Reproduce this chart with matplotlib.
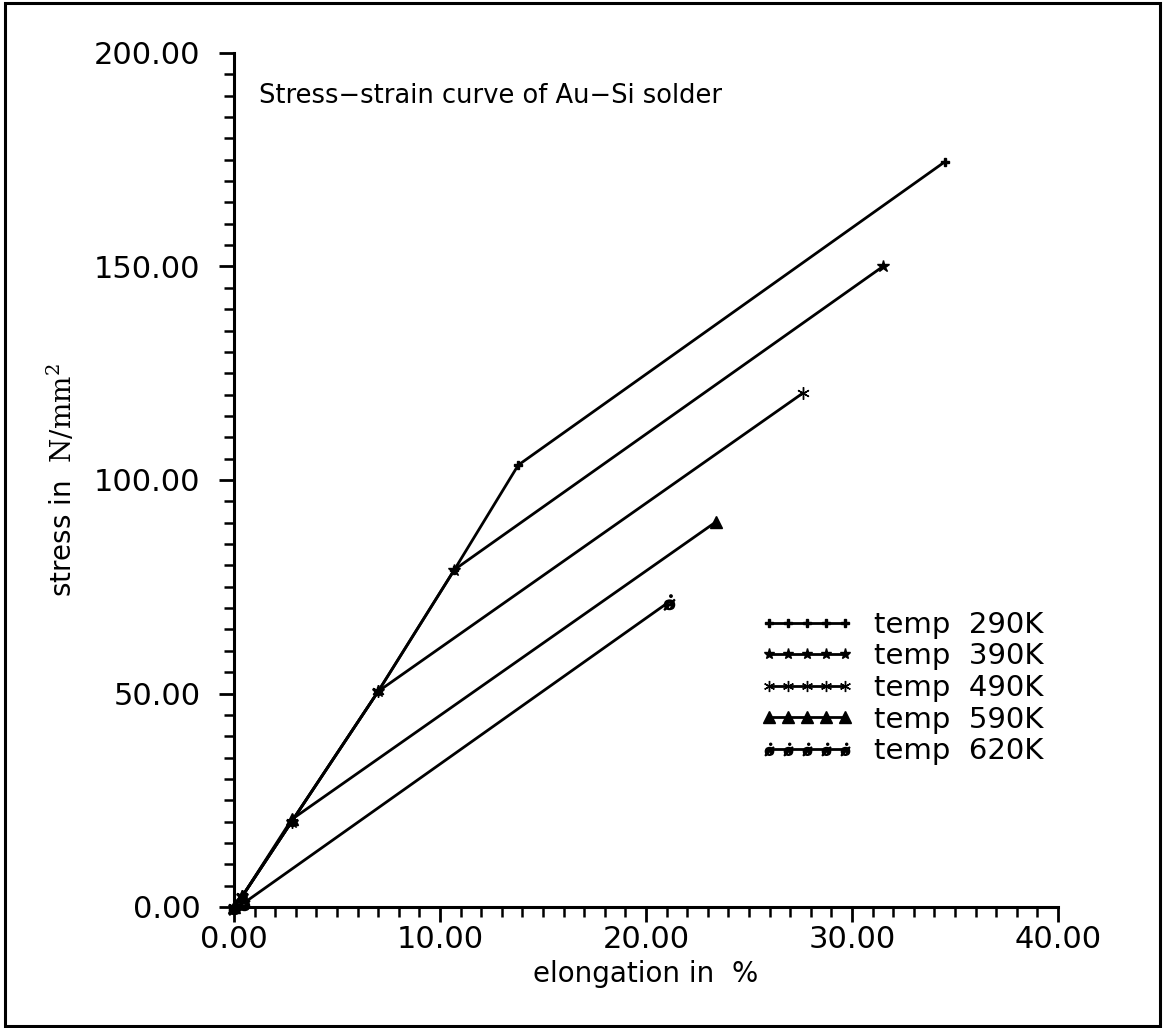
"""Stress-strain curve of Au-Si solder, redrawn with matplotlib."""

import matplotlib
matplotlib.use("Agg")
import matplotlib.pyplot as plt
from matplotlib.patches import Rectangle
from matplotlib.ticker import MultipleLocator, FormatStrFormatter

plt.rcParams["font.family"] = ["DejaVu Sans"]
plt.rcParams["mathtext.fontset"] = "dejavuserif"

# ---------------------------------------------------------------------------
# Data (elongation in %, stress in N/mm^2)
# ---------------------------------------------------------------------------
labels = ["temp  290K", "temp  390K", "temp  490K", "temp  590K", "temp  620K"]

x_290 = [0.0, 0.4, 2.8, 7.0, 10.7, 13.8, 34.5]
y_290 = [0.0, 2.5, 20.0, 50.5, 79.0, 103.5, 174.5]

x_390 = [0.0, 0.4, 2.8, 7.0, 10.7, 31.5]
y_390 = [0.0, 2.5, 20.0, 50.5, 79.0, 150.0]

x_490 = [0.0, 0.4, 2.8, 7.0, 27.6]
y_490 = [0.0, 2.5, 20.0, 50.5, 120.3]

x_590 = [0.0, 0.4, 2.8, 23.4]
y_590 = [0.0, 2.5, 20.5, 90.2]

x_620 = [0.0, 0.5, 21.1]
y_620 = [0.0, 1.0, 71.4]

series = [(x_290, y_290), (x_390, y_390), (x_490, y_490),
          (x_590, y_590), (x_620, y_620)]

markers = ["P", "*", (6, 2, 0), "^", r"$\mathbf{\dot{\o}}$"]
msizes = [6, 9, 9, 9, 11]
leg_msizes = [5.5, 8, 8, 8, 9]

# ---------------------------------------------------------------------------
# Figure
# ---------------------------------------------------------------------------
W, H = 1166, 1028
fig = plt.figure(figsize=(W / 100, H / 100), dpi=100)

# outer frame round the whole page
fig.patches.append(Rectangle((5 / W, 2 / H), 1155 / W, 1023 / H,
                             transform=fig.transFigure, fill=False,
                             edgecolor="black", linewidth=2.2))

ax = fig.add_axes([234 / W, 1 - 907 / H, 824 / W, 854 / H])

for (xs, ys), lab, mk, ms in zip(series, labels, markers, msizes):
    ax.plot(xs, ys, color="black", linewidth=2.0, marker=mk, markersize=ms,
            markeredgewidth=1.0, label=lab, clip_on=False)

ax.set_xlim(0, 40)
ax.set_ylim(0, 200)

for side in ("top", "right"):
    ax.spines[side].set_visible(False)
for side in ("left", "bottom"):
    ax.spines[side].set_linewidth(2.2)

ax.xaxis.set_major_locator(MultipleLocator(10))
ax.xaxis.set_minor_locator(MultipleLocator(1))
ax.yaxis.set_major_locator(MultipleLocator(50))
ax.yaxis.set_minor_locator(MultipleLocator(5))
ax.xaxis.set_major_formatter(FormatStrFormatter("%.2f"))
ax.yaxis.set_major_formatter(FormatStrFormatter("%.2f"))

ax.tick_params(which="major", direction="out", length=11, width=2.0,
               labelsize=22)
ax.tick_params(which="minor", direction="out", length=7, width=1.8)
ax.tick_params(axis="y", which="major", pad=13)
ax.tick_params(axis="x", which="major", pad=2)

ax.set_xlabel("elongation in  %", fontsize=20, labelpad=4)
ax.set_ylabel(r"stress in  $\mathrm{N/mm^2}$", fontsize=20, labelpad=12)

ax.text(0.03, 0.965, "Stress\u2212strain curve of Au\u2212Si solder",
        transform=ax.transAxes, fontsize=18.5, va="top", ha="left")

leg = ax.legend(loc="upper left", bbox_to_anchor=(760 / W, 1 - 611 / H),
                bbox_transform=fig.transFigure, frameon=False, numpoints=5,
                handlelength=3.2, handletextpad=0.7, labelspacing=0.12,
                fontsize=21, borderpad=0, borderaxespad=0)
for h, ms in zip(leg.legend_handles, leg_msizes):
    h.set_markersize(ms)

fig.savefig("out.png", dpi=100)
